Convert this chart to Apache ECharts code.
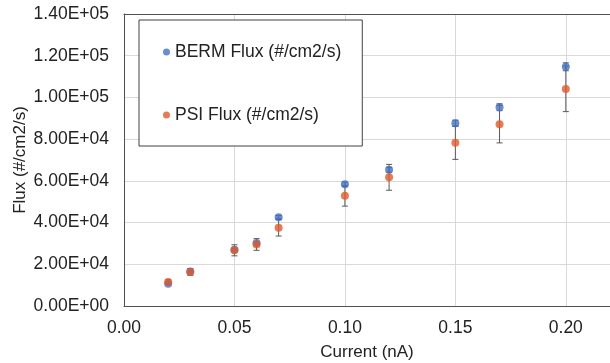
<!DOCTYPE html>
<html>
<head>
<meta charset="utf-8">
<script src="https://cdn.jsdelivr.net/npm/echarts@6/dist/echarts.min.js"></script>
<style>html,body{margin:0;padding:0;background:#fff}#c{width:610px;height:363px}</style>
</head>
<body>
<div id="c"></div>
<script>
const current = [0.02, 0.03, 0.05, 0.06, 0.07, 0.10, 0.12, 0.15, 0.17, 0.20];
const bermFlux = [10700, 16500, 27000, 30200, 42600, 58400, 65300, 87600, 95300, 114700];
const bermErr = [200, 300, 500, 550, 750, 1000, 1150, 1500, 1650, 1900];
const psiFlux = [11500, 16300, 26700, 29500, 37500, 52800, 61700, 78300, 87200, 104100];
const psiErr = [1100, 1600, 2650, 2800, 3950, 4900, 6200, 8000, 9000, 10900];
const seriesNames = ['BERM Flux (#/cm2/s)', 'PSI Flux (#/cm2/s)'];

const FONT = '"Liberation Sans", Arial, sans-serif';
const chart = echarts.init(document.getElementById('c'), null, {renderer: 'canvas'});

function expFmt(v) {
  let s = Number(v).toExponential(2).toUpperCase();
  return s.replace(/E([+-])(\d)$/, 'E$10$2');
}

function errData(vals, errs) {
  return current.map((c, i) => [c, vals[i] - errs[i], vals[i] + errs[i]]);
}

function errRender(params, api) {
  const x = api.value(0);
  const lo = api.coord([x, api.value(1)]);
  const hi = api.coord([x, api.value(2)]);
  const w = 3;
  const style = {stroke: '#595959', lineWidth: 1};
  return {
    type: 'group',
    children: [
      {type: 'line', shape: {x1: lo[0], y1: lo[1], x2: hi[0], y2: hi[1]}, style},
      {type: 'line', shape: {x1: lo[0] - w, y1: lo[1], x2: lo[0] + w, y2: lo[1]}, style},
      {type: 'line', shape: {x1: hi[0] - w, y1: hi[1], x2: hi[0] + w, y2: hi[1]}, style}
    ]
  };
}

const option = {
  backgroundColor: '#fff',
  animation: false,
  textStyle: {fontFamily: FONT},
  grid: {left: 124, top: 14, right: 0, bottom: 57, containLabel: false, outerBoundsMode: 'none'},
  legend: {
    data: seriesNames,
    orient: 'vertical',
    left: 139,
    top: 20,
    padding: [22, 21, 21, 24],
    itemGap: 43,
    itemWidth: 7,
    itemHeight: 7,
    icon: 'circle',
    borderColor: '#404040',
    borderWidth: 1,
    backgroundColor: '#fff',
    textStyle: {fontFamily: FONT, fontSize: 17.5, color: '#222', lineHeight: 20}
  },
  xAxis: [{
    type: 'value',
    min: 0, max: 0.22, interval: 0.05,
    name: 'Current (nA)',
    nameLocation: 'middle',
    nameGap: 38,
    nameMoveOverlap: false,
    nameTextStyle: {fontFamily: FONT, fontSize: 17, color: '#222'},
    axisLine: {show: true, lineStyle: {color: '#505050', width: 1}},
    axisTick: {show: false},
    axisLabel: {fontFamily: FONT, fontSize: 17.5, color: '#222', margin: 13,
      showMaxLabel: false, formatter: v => Number(v).toFixed(2)},
    splitLine: {show: true, lineStyle: {color: '#d9d9d9', width: 1}}
  }, {
    type: 'value',
    position: 'top',
    min: 0, max: 0.22,
    axisLine: {show: true, onZero: false, lineStyle: {color: '#505050', width: 1}},
    axisTick: {show: false},
    axisLabel: {show: false},
    splitLine: {show: false}
  }],
  yAxis: {
    type: 'value',
    min: 0, max: 140000, interval: 20000,
    name: 'Flux (#/cm2/s)',
    nameLocation: 'middle',
    nameGap: 95,
    nameMoveOverlap: false,
    nameRotate: 90,
    nameTextStyle: {fontFamily: FONT, fontSize: 17, color: '#222'},
    axisLine: {show: true, lineStyle: {color: '#505050', width: 1}},
    axisTick: {show: false},
    axisLabel: {fontFamily: FONT, fontSize: 17.5, color: '#222', margin: 15, formatter: expFmt},
    splitLine: {show: true, lineStyle: {color: '#d9d9d9', width: 1}}
  },
  series: [
    {
      name: 'bermErr', type: 'custom', xAxisIndex: 0, renderItem: errRender,
      data: errData(bermFlux, bermErr), z: 2, silent: true
    },
    {
      name: 'psiErr', type: 'custom', xAxisIndex: 0, renderItem: errRender,
      data: errData(psiFlux, psiErr), z: 2, silent: true
    },
    {
      name: seriesNames[0], type: 'scatter', xAxisIndex: 0,
      symbol: 'circle', symbolSize: 8,
      itemStyle: {color: '#4472C4'},
      data: current.map((c, i) => [c, bermFlux[i]]), z: 3
    },
    {
      name: seriesNames[1], type: 'scatter', xAxisIndex: 0,
      symbol: 'circle', symbolSize: 8,
      itemStyle: {color: '#E15A2B'},
      data: current.map((c, i) => [c, psiFlux[i]]), z: 4
    }
  ]
};
chart.setOption(option);
</script>
</body>
</html>
